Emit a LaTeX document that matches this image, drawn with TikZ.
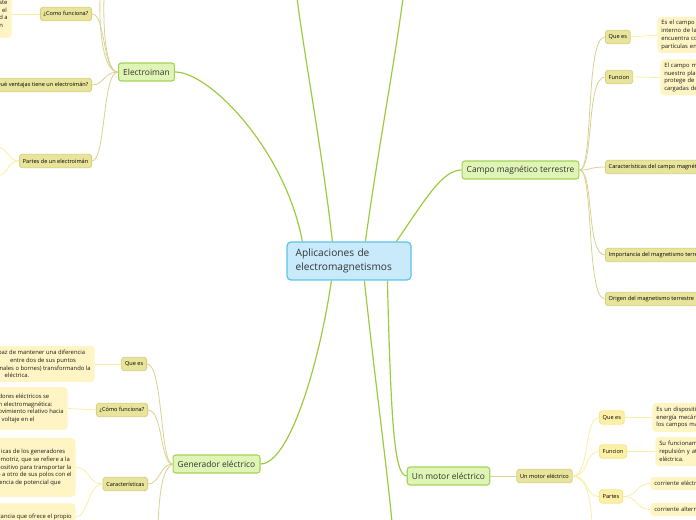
\documentclass[tikz,border=0pt]{standalone}
\usepackage{fontspec}
\setmainfont{Open Sans}
\usetikzlibrary{calc}

\definecolor{celeste}{HTML}{C8EAFA}
\definecolor{celesteborde}{HTML}{5EC3EC}
\definecolor{verdeclaro}{HTML}{DFF5B5}
\definecolor{verdeborde}{HTML}{A5D25A}
\definecolor{verderama}{HTML}{9DCB3F}
\definecolor{oliva}{HTML}{E8E49C}
\definecolor{olivaborde}{HTML}{D7D07C}
\definecolor{olivarama}{HTML}{D8D292}
\definecolor{amarillo}{HTML}{FCF0A6}
\definecolor{amarilloborde}{HTML}{F6E68E}
\definecolor{amarillorama}{HTML}{FBEEA2}
\definecolor{notafondo}{HTML}{FFF5C4}
\definecolor{texto}{HTML}{333333}

\begin{document}
\begin{tikzpicture}[x=0.75pt,y=-0.75pt,
  central/.style={draw=celesteborde,fill=celeste,line width=0.9pt,rounded corners=3pt,text width=80pt,align=left,inner xsep=6.5pt,minimum height=28.5pt,font=\fontsize{7.6}{10.5}\selectfont,text=texto},
  tema/.style={draw=verdeborde,fill=verdeclaro,line width=0.8pt,rounded corners=2pt,minimum height=13.5pt,inner xsep=3.5pt,inner ysep=1pt,font=\fontsize{6.3}{7.5}\selectfont,text=texto},
  subtema/.style={draw=olivaborde,fill=oliva,line width=0.6pt,rounded corners=2pt,minimum height=10pt,inner xsep=2.5pt,inner ysep=1pt,font=\fontsize{4.2}{5}\selectfont,text=black},
  subsub/.style={subtema,draw=amarilloborde,fill=amarillo},
  nota/.style={fill=notafondo,rounded corners=3pt,align=left,inner xsep=3pt,inner ysep=2pt,font=\fontsize{4.4}{5.8}\selectfont,text=black!90},
  rama/.style={draw=verderama,line width=0.9pt},
  subrama/.style={draw=olivarama,line width=0.6pt},
  notarama/.style={draw=amarillorama,line width=0.6pt}]
  \useasboundingbox (0,0) rectangle (696,520);
  \clip (0,0) rectangle (696,520);

  % tema central
  \node[central] (apl) at (349,261) {Aplicaciones de\\electromagnetismos};

  % temas principales
  \node[tema] (elec) at (146.5,72) {Electroiman};
  \node[tema] (campo) at (520.5,170) {Campo magnético terrestre};
  \node[tema] (gen) at (216.5,464) {Generador eléctrico};
  \node[tema] (motor) at (448.5,476) {Un motor eléctrico};

  % ramas que salen del cuadro
  \coordinate (arriba1) at (297,-2);
  \coordinate (arriba2) at (403,-2);
  \coordinate (abajo1) at (392,522);

  % ramas desde el centro
  \draw[rama] ($(apl.north west)+(16,0)$) .. controls (285,150) and (210,72) .. (elec.east);
  \draw[rama] ($(apl.north west)+(46,0)$) .. controls (322,150) and (305,60) .. (arriba1);
  \draw[rama] ($(apl.north west)+(79,0)$) .. controls (378,150) and (395,60) .. (arriba2);
  \draw[rama] ($(apl.north west)+(110,0)$) .. controls (425,200) and (442,170) .. (campo.west);
  \draw[rama] ($(apl.south west)+(45,0)$) .. controls (320,360) and (290,464) .. (gen.east);
  \draw[rama] ($(apl.south west)+(78,0)$) .. controls (375,380) and (386,460) .. (abajo1);
  \draw[rama] ($(apl.south west)+(101,0)$) .. controls (391,420) and (394,476) .. (motor.west);

  % electroiman
  \node[subtema,anchor=east] (elecfun) at (92,14) {¿Como funciona?};
  \node[subtema,anchor=east] (elecven) at (92,85) {¿Qué ventajas tiene un electroimán?};
  \node[subtema,anchor=east] (elecpar) at (92,161) {Partes de un electroimán};
  \node[nota,anchor=east,minimum height=36pt] (elecfuntxt) at (12,14)
    {ste\\\hspace*{2pt}el\\d a\\n};
  \coordinate (elecarriba1) at (100,-2);
  \coordinate (elecarriba2) at (104,-2);
  \coordinate (parfuera1) at (-2,147);
  \coordinate (parfuera2) at (-2,176);
  \draw[subrama] (elec.west) .. controls (102,72) and (106,14) .. (elecfun.east);
  \draw[subrama] (elec.west) .. controls (104,72) and (104,85) .. (elecven.east);
  \draw[subrama] (elec.west) .. controls (102,72) and (106,161) .. (elecpar.east);
  \draw[subrama] (elec.west) .. controls (103,72) and (99,30) .. (elecarriba1);
  \draw[subrama] (elec.west) .. controls (106,72) and (103,30) .. (elecarriba2);
  \draw[notarama] (elecfun.west) -- (elecfuntxt.east);
  \draw[notarama] (elecpar.west) .. controls (8,161) and (8,148) .. (parfuera1);
  \draw[notarama] (elecpar.west) .. controls (8,161) and (8,174) .. (parfuera2);

  % campo magnetico terrestre
  \node[subtema,anchor=west] (campoque) at (605,37) {Que es};
  \node[subtema,anchor=west] (campofun) at (605,77) {Funcion};
  \node[subtema,anchor=west] (campocar) at (605,167) {Características del campo magnético terrestre};
  \node[subtema,anchor=west] (campoimp) at (605,255) {Importancia del magnetismo terrestre};
  \node[subtema,anchor=west] (campoori) at (605,299) {Origen del magnetismo terrestre};
  \node[nota,anchor=west,text width=60pt,minimum height=27pt] (campoquetxt) at (657,35)
    {Es el campo m\\interno de la\\encuentra co\\partículas en};
  \node[nota,anchor=west,text width=60pt,minimum height=27pt] (campofuntxt) at (660,77.5)
    {El campo ma\\nuestro pla\\protege de l\\cargadas de};
  \draw[subrama] (campo.east) .. controls (594,170) and (585,37) .. (campoque.west);
  \draw[subrama] (campo.east) .. controls (594,170) and (586,77) .. (campofun.west);
  \draw[subrama] (campo.east) .. controls (592,170) and (590,167) .. (campocar.west);
  \draw[subrama] (campo.east) .. controls (594,170) and (586,255) .. (campoimp.west);
  \draw[subrama] (campo.east) .. controls (594,170) and (586,299) .. (campoori.west);
  \draw[notarama] (campoque.east) -- (campoquetxt.west);
  \draw[notarama] (campofun.east) -- (campofuntxt.west);

  % generador electrico
  \node[subtema,anchor=east] (genque) at (147,364) {Que es};
  \node[subtema,anchor=east] (genfun) at (148,410) {¿Cómo funciona?};
  \node[subtema,anchor=east] (gencar) at (148,484) {Características};
  \node[nota,anchor=east,minimum height=27pt] (genquetxt) at (95,364)
    {paz de mantener una diferencia\\\hspace*{9pt}entre dos de sus puntos\\inales o bornes) transformando la\\\hspace*{5pt}eléctrica.};
  \node[nota,anchor=east,minimum height=32pt] (genfuntxt) at (68,408.5)
    {dores eléctricos se\\n electromagnética:\\ovimiento relativo hacia\\l voltaje en el};
  \node[nota,anchor=east,minimum height=44pt] (gencartxt) at (76,467.5)
    {\hspace*{3pt}icas de los generadores\\omotriz, que se refiere a la\\positivo para transportar la\\o a otro de sus polos con el\\rencia de potencial que};
  \node[nota,anchor=north east,inner ysep=8pt] (gencartxt2) at (76,503)
    {tancia que ofrece el propio};
  \coordinate (genabajo) at (158,522);
  \draw[subrama] (gen.west) .. controls (160,464) and (163,364) .. (genque.east);
  \draw[subrama] (gen.west) .. controls (160,464) and (163,410) .. (genfun.east);
  \draw[subrama] (gen.west) .. controls (160,464) and (160,484) .. (gencar.east);
  \draw[subrama] (gen.west) .. controls (162,470) and (160,490) .. (genabajo);
  \draw[notarama] (genque.west) -- (genquetxt.east);
  \draw[notarama] (genfun.west) -- (genfuntxt.east);
  \draw[notarama] (gencar.west) .. controls (88,484) and (90,467.5) .. (gencartxt.east);
  \draw[notarama] (gencar.west) .. controls (88,484) and (88,517) .. (gencartxt2.east);

  % un motor electrico
  \node[subtema] (motorsub) at (544.5,476) {Un motor eléctrico};
  \node[subsub,anchor=west] (motorque) at (599,417.5) {Que es};
  \node[subsub,anchor=west] (motorfun) at (599,451.5) {Funcion};
  \node[subsub,anchor=west] (motorpar) at (599,496.5) {Partes};
  \node[nota,anchor=west,text width=45pt,minimum height=22pt] (motorquetxt) at (652,417.5)
    {Es un dispositiv\\energía mecáni\\los campos ma};
  \node[nota,anchor=west,text width=45pt,minimum height=22pt] (motorfuntxt) at (655,451.5)
    {Su funcionami\\repulsión y at\\eléctrica.};
  \node[nota,anchor=west,text width=45pt,minimum height=10pt] (motorcor1) at (650,483.5) {corriente eléctrica};
  \node[nota,anchor=west,text width=45pt,minimum height=10pt] (motorcor2) at (650,509.5) {corriente alterna};
  \coordinate (motorabajo) at (592,522);
  \draw[subrama] (motor.east) -- (motorsub.west);
  \draw[notarama] (motorsub.east) .. controls (590,476) and (584,417.5) .. (motorque.west);
  \draw[notarama] (motorsub.east) .. controls (590,476) and (584,451.5) .. (motorfun.west);
  \draw[notarama] (motorsub.east) .. controls (590,476) and (584,496.5) .. (motorpar.west);
  \draw[notarama] (motorsub.east) .. controls (588,478) and (590,500) .. (motorabajo);
  \draw[notarama] (motorque.east) -- (motorquetxt.west);
  \draw[notarama] (motorfun.east) -- (motorfuntxt.west);
  \draw[notarama] (motorpar.east) .. controls (638,496.5) and (636,483.5) .. (motorcor1.west);
  \draw[notarama] (motorpar.east) .. controls (638,496.5) and (636,509.5) .. (motorcor2.west);
\end{tikzpicture}
\end{document}
